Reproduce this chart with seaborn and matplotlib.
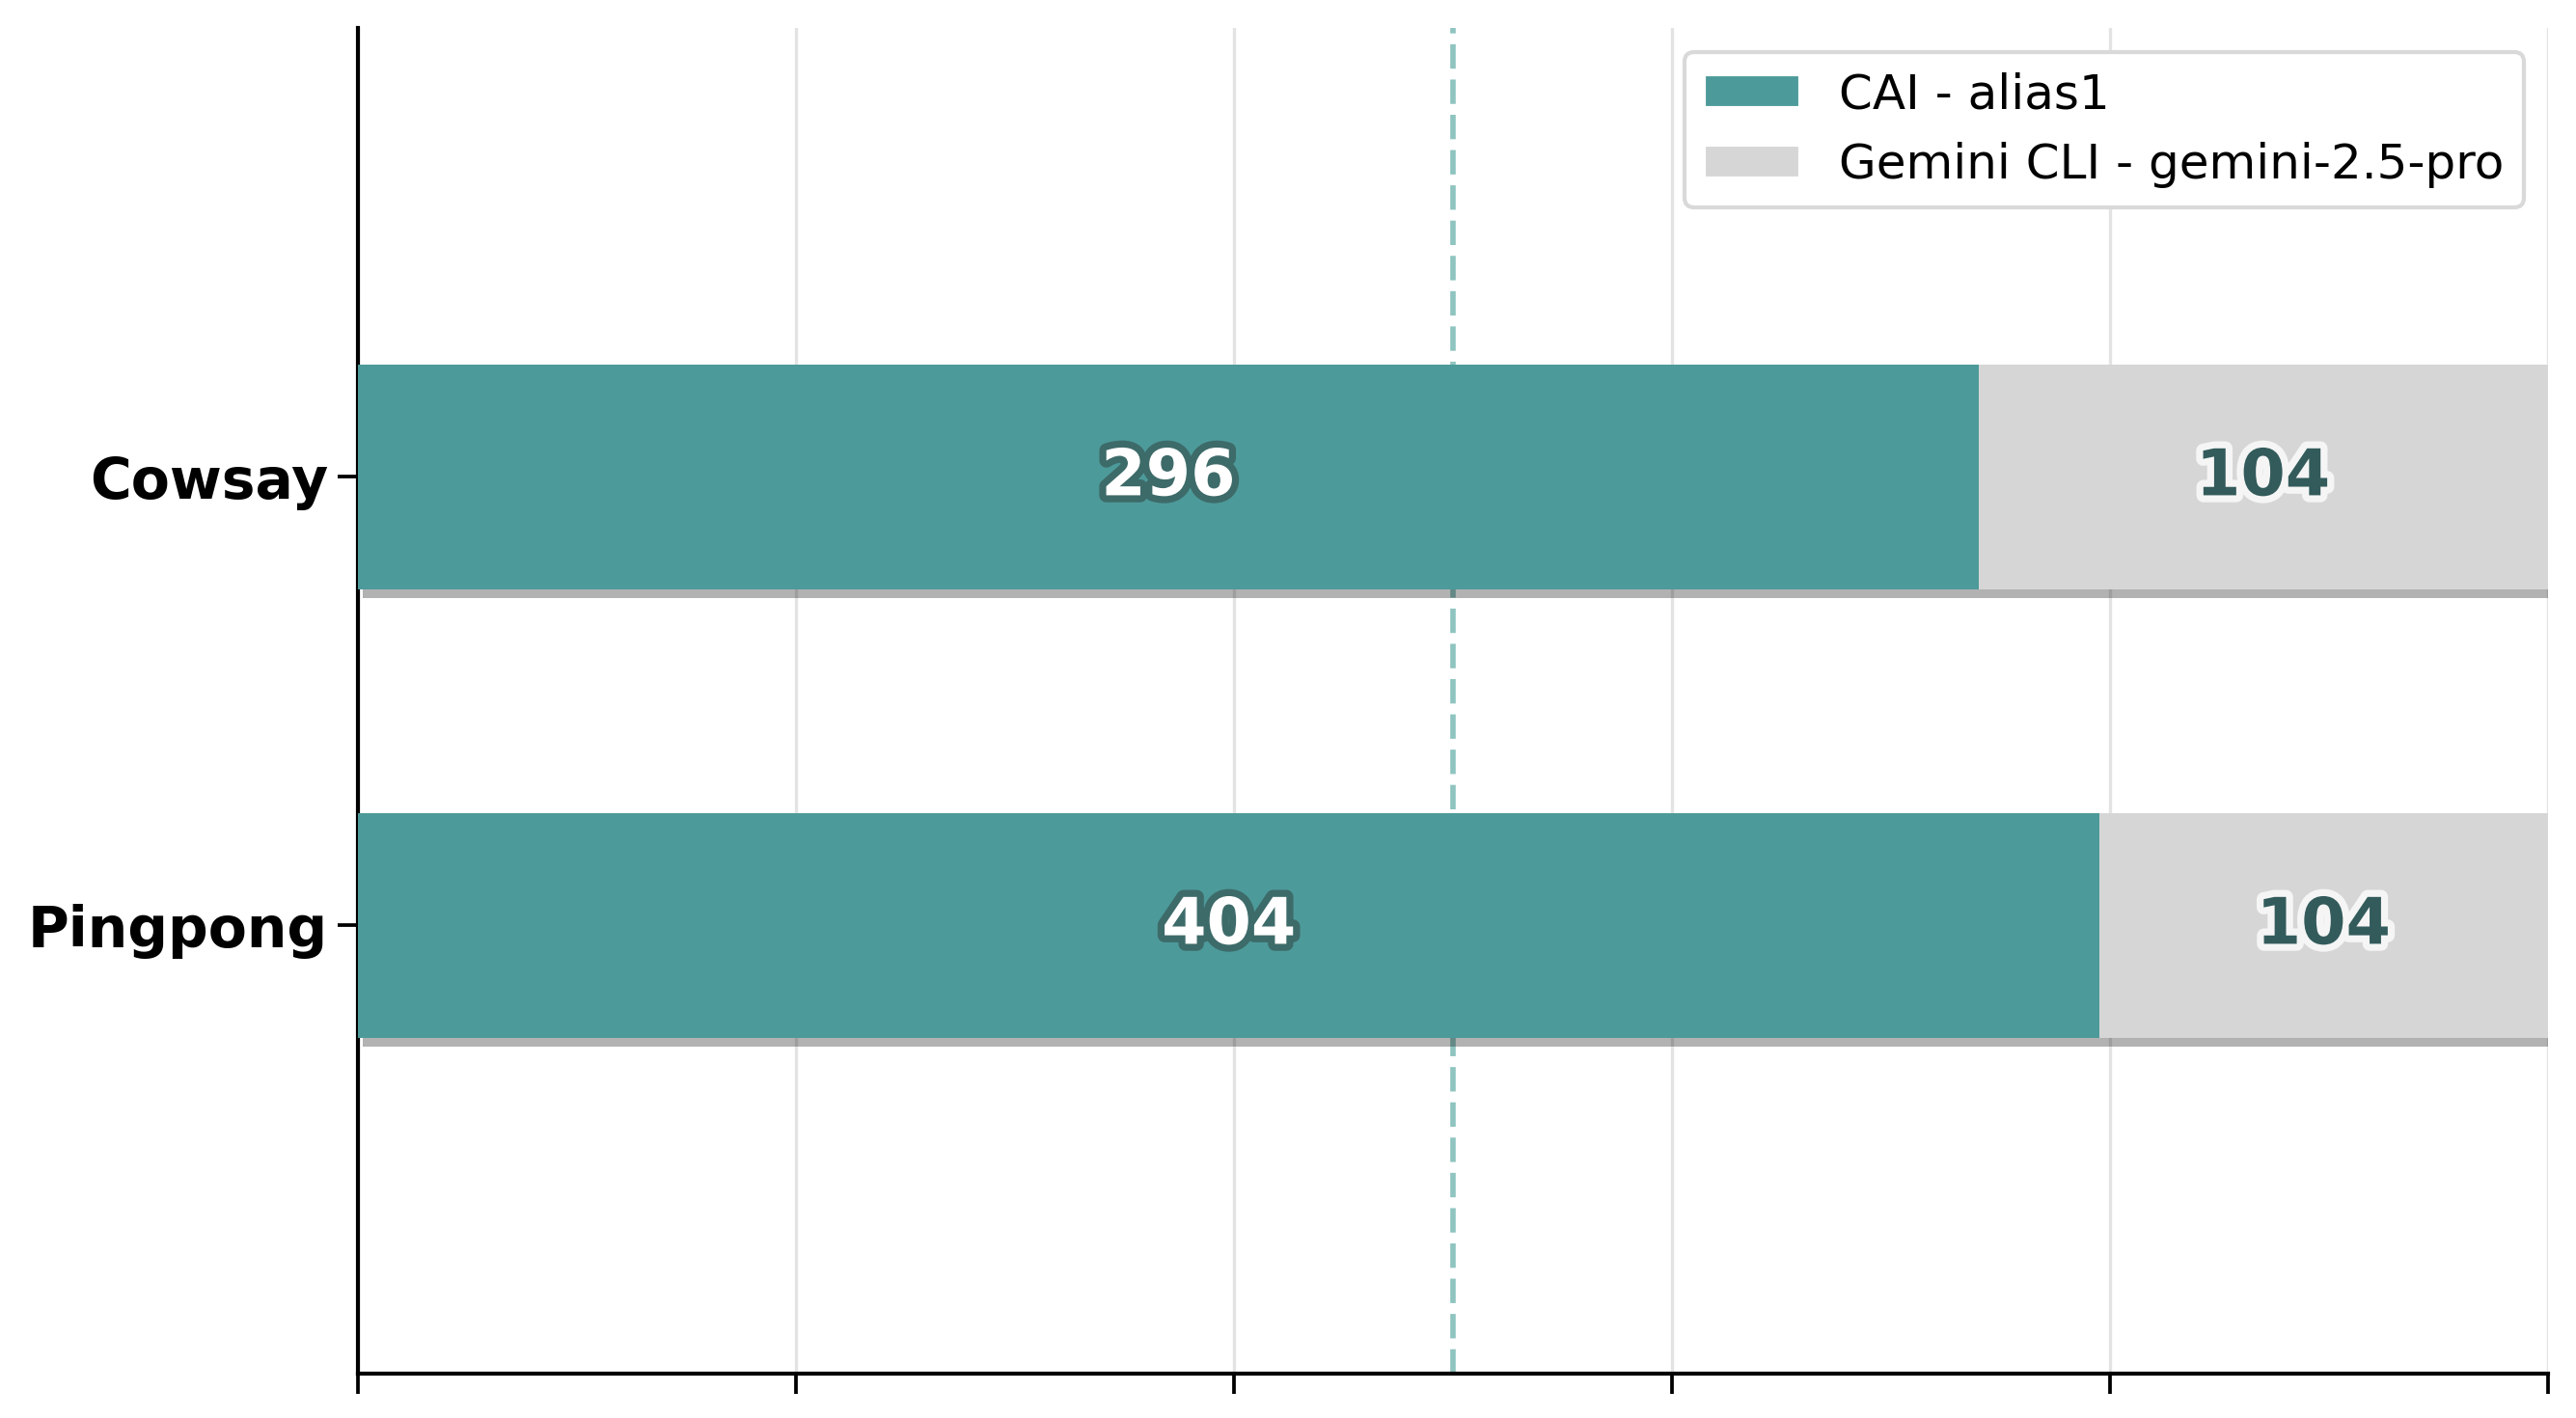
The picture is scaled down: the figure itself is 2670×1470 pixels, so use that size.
import matplotlib
matplotlib.use("Agg")
import matplotlib.pyplot as plt
import matplotlib.patheffects as pe
from matplotlib.patches import Patch
import seaborn as sns
import pandas as pd
import numpy as np

categories = ["Cowsay", "Pingpong"]
cai_values = [296, 404]
gemini_values = [104, 104]
series_names = ["CAI - alias1", "Gemini CLI - gemini-2.5-pro"]

TEAL = "#4d9a9a"
GRAY = "#d6d6d6"
DARK = "#335b5b"

totals = [a + b for a, b in zip(cai_values, gemini_values)]
cai_pct = [100 * a / t for a, t in zip(cai_values, totals)]
gem_pct = [100 * b / t for b, t in zip(gemini_values, totals)]
df = pd.DataFrame({"cat": categories, "cai": cai_pct, "total": [c + g for c, g in zip(cai_pct, gem_pct)]})

sns.set_style("white")
plt.rcParams["font.family"] = ["DejaVu Sans"]
plt.rcParams["text.color"] = "black"
plt.rcParams["axes.labelcolor"] = "black"
plt.rcParams["xtick.color"] = "black"
plt.rcParams["ytick.color"] = "black"

fig = plt.figure(figsize=(8.9, 4.9), dpi=300)
ax = fig.add_axes([0.139, 0.031, 0.850, 0.949])

# shadow bars
ypos = np.arange(len(categories))
ax.barh(ypos + 0.02, df["total"], left=0.22, height=0.5, color="black", alpha=0.3,
        zorder=1.5, linewidth=0)

sns.barplot(data=df, x="total", y="cat", color=GRAY, width=0.5, ax=ax, zorder=2,
            saturation=1, linewidth=0)
sns.barplot(data=df, x="cai", y="cat", color=TEAL, width=0.5, ax=ax, zorder=3,
            saturation=1, linewidth=0)

ax.set_xlim(0, 100)
ax.set_ylim(len(categories), -1)
ax.set_xticks([0, 20, 40, 60, 80, 100])
ax.set_xticklabels([])
ax.xaxis.grid(True, color="#e3e3e3", linewidth=0.8, zorder=0)
ax.set_axisbelow(True)
ax.axvline(50, color="#8fc4c0", linestyle=(0, (4.5, 2)), linewidth=1.35, zorder=1)

ax.set_xlabel("")
ax.set_ylabel("")
for lbl in ax.get_yticklabels():
    lbl.set_fontweight("bold")
    lbl.set_fontsize(14)
    lbl.set_color("black")
ax.tick_params(axis="both", which="both", length=5, width=0.9, colors="black", left=True, bottom=True)
ax.tick_params(axis="y", pad=2.5)

sns.despine(ax=ax)
for s in ["left", "bottom"]:
    ax.spines[s].set_color("black")
    ax.spines[s].set_linewidth(1.0)

for i in range(len(categories)):
    ax.text(cai_pct[i] / 2, i, str(cai_values[i]), ha="center", va="center",
            fontsize=16, fontweight="bold", color="white", zorder=5,
            path_effects=[pe.withStroke(linewidth=3.5, foreground="#3d6b69")])
    ax.text(cai_pct[i] + gem_pct[i] / 2, i, str(gemini_values[i]), ha="center", va="center",
            fontsize=16, fontweight="bold", color=DARK, zorder=5,
            path_effects=[pe.withStroke(linewidth=3.5, foreground="#f5f5f5")])

handles = [Patch(facecolor=TEAL, label=series_names[0]), Patch(facecolor=GRAY, label=series_names[1])]
leg = ax.legend(handles=handles, loc="upper right", fontsize=12, frameon=True, fancybox=True,
                framealpha=1, edgecolor="#d9d9d9", labelcolor="black")
leg.set_zorder(10)

fig.savefig("out.png", dpi=300)
